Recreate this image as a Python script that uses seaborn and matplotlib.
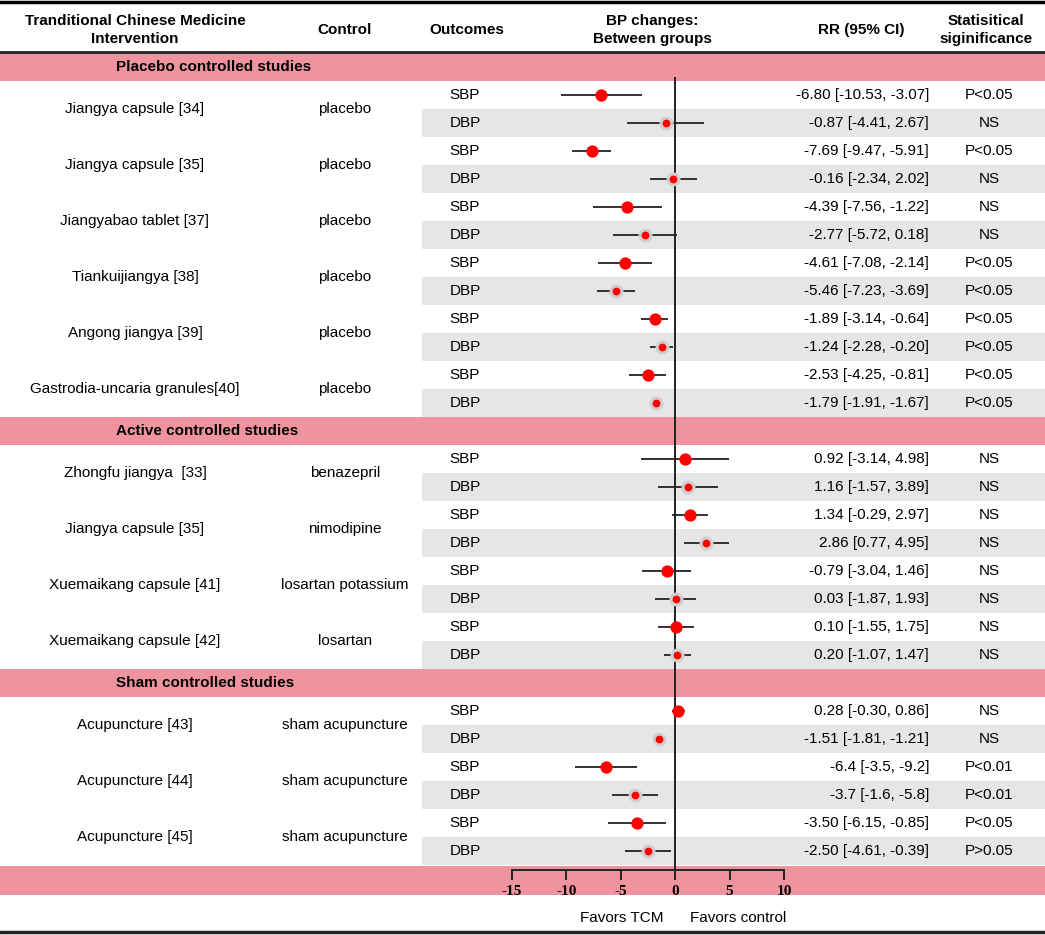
import numpy as np
import pandas as pd
import seaborn as sns
import matplotlib.pyplot as plt

sns.set_theme(style="white")
plt.rcParams['font.family'] = ['Liberation Sans', 'DejaVu Sans']
plt.rcParams['text.color'] = 'black'
plt.rcParams['xtick.color'] = 'black'
plt.rcParams['axes.unicode_minus'] = False

# ---- data ----
groups = ["Placebo controlled studies", "Active controlled studies", "Sham controlled studies"]
interventions = ["Jiangya capsule [34]", "Jiangya capsule [35]", "Jiangyabao tablet [37]",
                 "Tiankuijiangya [38]", "Angong jiangya [39]", "Gastrodia-uncaria granules[40]",
                 "Zhongfu jiangya  [33]", "Jiangya capsule [35]", "Xuemaikang capsule [41]",
                 "Xuemaikang capsule [42]", "Acupuncture [43]", "Acupuncture [44]", "Acupuncture [45]"]
controls = ["placebo", "placebo", "placebo", "placebo", "placebo", "placebo",
            "benazepril", "nimodipine", "losartan potassium", "losartan",
            "sham acupuncture", "sham acupuncture", "sham acupuncture"]
group_of = [0, 0, 0, 0, 0, 0, 1, 1, 1, 1, 2, 2, 2]

sbp_est = [-6.80, -7.69, -4.39, -4.61, -1.89, -2.53, 0.92, 1.34, -0.79, 0.10, 0.28, -6.4, -3.50]
sbp_lo = [-10.53, -9.47, -7.56, -7.08, -3.14, -4.25, -3.14, -0.29, -3.04, -1.55, -0.30, -3.5, -6.15]
sbp_hi = [-3.07, -5.91, -1.22, -2.14, -0.64, -0.81, 4.98, 2.97, 1.46, 1.75, 0.86, -9.2, -0.85]
dbp_est = [-0.87, -0.16, -2.77, -5.46, -1.24, -1.79, 1.16, 2.86, 0.03, 0.20, -1.51, -3.7, -2.50]
dbp_lo = [-4.41, -2.34, -5.72, -7.23, -2.28, -1.91, -1.57, 0.77, -1.87, -1.07, -1.81, -1.6, -4.61]
dbp_hi = [2.67, 2.02, 0.18, -3.69, -0.20, -1.67, 3.89, 4.95, 1.93, 1.47, -1.21, -5.8, -0.39]

sbp_rr = ["-6.80 [-10.53, -3.07]", "-7.69 [-9.47, -5.91]", "-4.39 [-7.56, -1.22]",
          "-4.61 [-7.08, -2.14]", "-1.89 [-3.14, -0.64]", "-2.53 [-4.25, -0.81]",
          "0.92 [-3.14, 4.98]", "1.34 [-0.29, 2.97]", "-0.79 [-3.04, 1.46]",
          "0.10 [-1.55, 1.75]", "0.28 [-0.30, 0.86]", "-6.4 [-3.5, -9.2]", "-3.50 [-6.15, -0.85]"]
dbp_rr = ["-0.87 [-4.41, 2.67]", "-0.16 [-2.34, 2.02]", "-2.77 [-5.72, 0.18]",
          "-5.46 [-7.23, -3.69]", "-1.24 [-2.28, -0.20]", "-1.79 [-1.91, -1.67]",
          "1.16 [-1.57, 3.89]", "2.86 [0.77, 4.95]", "0.03 [-1.87, 1.93]",
          "0.20 [-1.07, 1.47]", "-1.51 [-1.81, -1.21]", "-3.7 [-1.6, -5.8]", "-2.50 [-4.61, -0.39]"]
sbp_sig = ["P<0.05", "P<0.05", "NS", "P<0.05", "P<0.05", "P<0.05",
           "NS", "NS", "NS", "NS", "NS", "P<0.01", "P<0.05"]
dbp_sig = ["NS", "NS", "NS", "P<0.05", "P<0.05", "P<0.05",
           "NS", "NS", "NS", "NS", "NS", "P<0.01", "P>0.05"]

ticks = [-15, -10, -5, 0, 5, 10]

# ---- layout (pixels) ----
W, H = 1045, 935
ROW_TOP, ROW_H = 53, 28
PINK = "#ef949e"
GREY = "#e6e6e6"
FS = 11

fig = plt.figure(figsize=(W / 100, H / 100), dpi=100)
tab = fig.add_axes([0, 0, 1, 1])
tab.set_xlim(0, W)
tab.set_ylim(H, 0)
tab.axis("off")

def row_y(i):
    return ROW_TOP + ROW_H * (i + 0.5)

# header
hy = 30
tab.text(135, hy, "Tranditional Chinese Medicine\nIntervention", ha="center", va="center",
         fontsize=FS, fontweight="bold", linespacing=1.3)
tab.text(345, hy, "Control", ha="center", va="center", fontsize=FS, fontweight="bold")
tab.text(467, hy, "Outcomes", ha="center", va="center", fontsize=FS, fontweight="bold")
tab.text(652, hy, "BP changes:\nBetween groups", ha="center", va="center",
         fontsize=FS, fontweight="bold", linespacing=1.3)
tab.text(861, hy, "RR (95% CI)", ha="center", va="center", fontsize=FS, fontweight="bold")
tab.text(986, hy, "Statisitical\nsiginificance", ha="center", va="center",
         fontsize=FS, fontweight="bold", linespacing=1.3)
tab.axhline(2, color="black", lw=2.5)
tab.axhline(52, color="#222222", lw=2)
tab.axhline(932, color="#222222", lw=2.5)

# rows
recs = []
row = 0
for g, title in enumerate(groups):
    top = ROW_TOP + ROW_H * row
    tab.axhspan(top, top + ROW_H, color=PINK, lw=0)
    tab.text(116, row_y(row), title, ha="left", va="center", fontsize=FS, fontweight="bold")
    row += 1
    for k in [i for i, gg in enumerate(group_of) if gg == g]:
        top = ROW_TOP + ROW_H * (row + 1)
        tab.axhspan(top, top + ROW_H, xmin=422 / W, xmax=1, color=GREY, lw=0)
        tab.text(135, top, interventions[k], ha="center", va="center", fontsize=FS)
        tab.text(345, top, controls[k], ha="center", va="center", fontsize=FS)
        for j, (name, est, lo, hi, rr, sig) in enumerate([
                ("SBP", sbp_est[k], sbp_lo[k], sbp_hi[k], sbp_rr[k], sbp_sig[k]),
                ("DBP", dbp_est[k], dbp_lo[k], dbp_hi[k], dbp_rr[k], dbp_sig[k])]):
            y = row_y(row + j)
            tab.text(465, y, name, ha="center", va="center", fontsize=FS)
            tab.text(929, y, rr, ha="right", va="center", fontsize=FS)
            tab.text(989, y, sig, ha="center", va="center", fontsize=FS)
            recs.append(dict(outcome=name, est=est, lo=lo, hi=hi, y=y))
        row += 2
# axis band
top = ROW_TOP + ROW_H * row
tab.axhspan(top + 1, top + ROW_H + 2, color=PINK, lw=0)

df = pd.DataFrame(recs)

# ---- forest plot ----
AX_TOP, AX_BOT = 77, 870
fax = fig.add_axes([512 / W, 1 - AX_BOT / H, 272 / W, (AX_BOT - AX_TOP) / H])
fax.patch.set_alpha(0)
fax.set_xlim(ticks[0], ticks[-1])
fax.set_ylim(AX_BOT, AX_TOP)
for s in ["left", "right", "top"]:
    fax.spines[s].set_visible(False)
fax.spines["bottom"].set_linewidth(1.4)
fax.spines["bottom"].set_color("#222222")
fax.set_yticks([])
fax.set_xticks(ticks)
fax.tick_params(axis="x", direction="out", length=7.5, width=1.4, color="#222222",
                labelcolor="black", pad=3, bottom=True)
for lab in fax.get_xticklabels():
    lab.set_fontfamily("Liberation Serif")
    lab.set_fontweight("bold")
    lab.set_fontsize(FS)

fax.axvline(0, color="#222222", lw=1.4, zorder=1)
fax.hlines(df["y"], df["lo"], df["hi"], color="#222222", lw=1.3, zorder=2, clip_on=False)
sbp = df[df["outcome"] == "SBP"]
dbp = df[df["outcome"] == "DBP"]
sns.scatterplot(data=sbp, x="est", y="y", ax=fax, s=78, color="red", edgecolor="red",
                linewidth=0, zorder=3, legend=False, clip_on=False)
sns.scatterplot(data=dbp, x="est", y="y", ax=fax, s=62, color="red", edgecolor="#cfcfcf",
                linewidth=2.2, zorder=3, legend=False, clip_on=False)
fax.set_xlabel("")
fax.set_ylabel("")

fax.text(-1.1, 918, "Favors TCM", ha="right", va="center", fontsize=FS)
fax.text(1.4, 918, "Favors control", ha="left", va="center", fontsize=FS)

fig.savefig("out.png", dpi=100)
